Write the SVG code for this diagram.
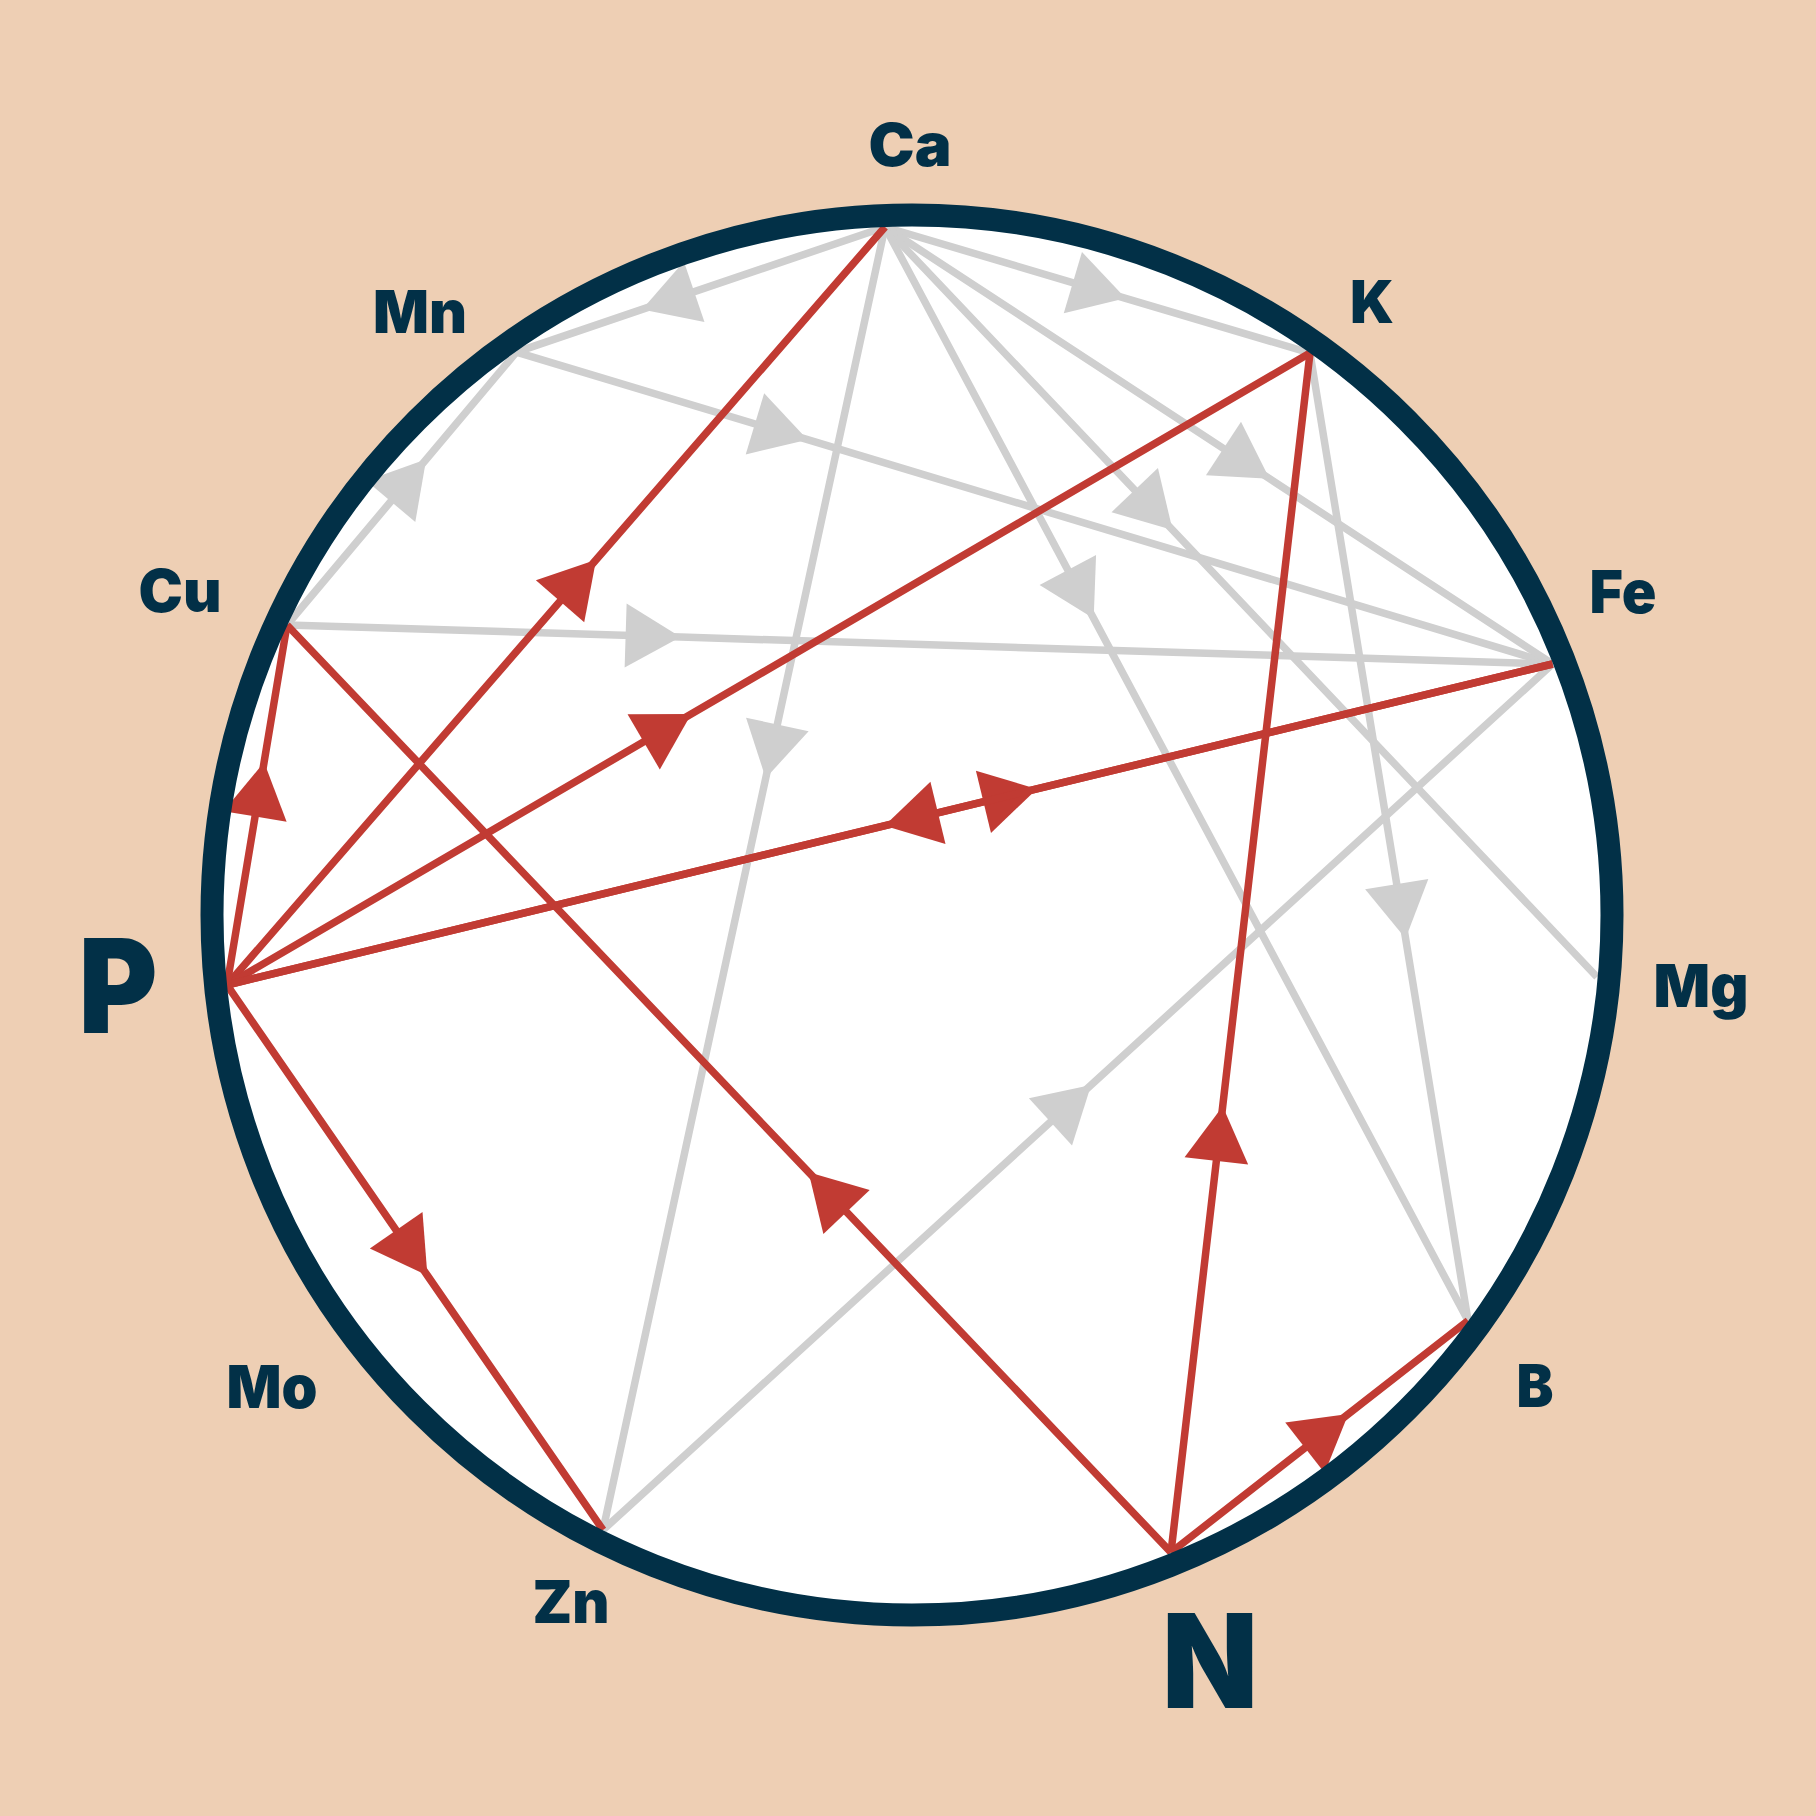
<svg xmlns="http://www.w3.org/2000/svg" width="1816" height="1816" viewBox="0 0 1816 1816">
<style>
.lab{font-family:Inter,"Liberation Sans",sans-serif;font-weight:900;fill:#023047;text-anchor:middle}
.s{font-size:59px}
.b{font-size:130px}
.g{fill:none;stroke:#cfcfcf;stroke-width:7.5;marker-mid:url(#ag)}
.r{fill:none;stroke:#c13b33;stroke-width:7.5;marker-mid:url(#ar)}
</style>
<defs>
<marker id="ag" markerUnits="userSpaceOnUse" markerWidth="55" markerHeight="64" refX="55" refY="32" orient="auto" overflow="visible"><path d="M0,0 L55,32 L0,64 Z" fill="#cfcfcf"/></marker>
<marker id="ar" markerUnits="userSpaceOnUse" markerWidth="55" markerHeight="64" refX="55" refY="32" orient="auto" overflow="visible"><path d="M0,0 L55,32 L0,64 Z" fill="#c13b33"/></marker>
</defs>
<rect width="1816" height="1816" fill="#eecfb4"/>
<circle cx="912" cy="915" r="700" fill="#ffffff"/>
<g id="connectors">
<path class="g" d="M885,227 L642.1,309.4 L516.4,352.1"/>
<path class="g" d="M885,227 L1125.6,298.3 L1310,353"/>
<path class="g" d="M287,625 L426.2,459.3 L516.4,352.1"/>
<path class="g" d="M516.4,352.1 L807.6,439.7 L1552.6,664"/>
<path class="g" d="M885,227 L1269.5,478.7 L1552.6,664"/>
<path class="g" d="M885,227 L1172.6,530 L1597,977"/>
<path class="g" d="M885,227 L1093.7,618.5 L1468,1320.6"/>
<path class="g" d="M885,227 L765.7,778.2 L603,1530"/>
<path class="g" d="M287,625 L680.6,637.1 L1552.6,664"/>
<path class="g" d="M1310,353 L1405.6,938.4 L1468,1320.6"/>
<path class="g" d="M603,1530 L1091.1,1084.9 L1552.6,664"/>
<path class="r" d="M227,985 L596.1,559.8 L885,227"/>
<path class="r" d="M227,985 L691.2,714.1 L1310,353"/>
<path class="r" d="M227,985 L1036.9,788.9 L1552.6,664"/>
<path class="r" d="M1552.6,664 L884.5,825.8 L227,985"/>
<path class="r" d="M227,985 L264.1,762.2 L287,625"/>
<path class="r" d="M1171,1552.4 L808.6,1172.2 L287,625"/>
<path class="r" d="M227,985 L427.4,1275.5 L603,1530"/>
<path class="r" d="M1171,1552.4 L1222.7,1106.2 L1310,353"/>
<path class="r" d="M1171,1552.4 L1348.3,1414 L1468,1320.6"/>
</g>
<circle cx="912" cy="915" r="700" fill="none" stroke="#023047" stroke-width="23"/>
<g id="node-Ca"><text class="lab s" x="910" y="166" textLength="83" lengthAdjust="spacingAndGlyphs">Ca</text></g>
<g id="node-K"><text class="lab s" x="1372" y="323" textLength="44" lengthAdjust="spacingAndGlyphs">K</text></g>
<g id="node-Fe"><text class="lab s" x="1623" y="613" textLength="67" lengthAdjust="spacingAndGlyphs">Fe</text></g>
<g id="node-Mg"><text class="lab s" x="1701" y="1007" textLength="95" lengthAdjust="spacingAndGlyphs">Mg</text></g>
<g id="node-B"><text class="lab s" x="1535" y="1407" textLength="37" lengthAdjust="spacingAndGlyphs">B</text></g>
<g id="node-N"><text class="lab b" x="1210" y="1708" textLength="96" lengthAdjust="spacingAndGlyphs">N</text></g>
<g id="node-Zn"><text class="lab s" x="571" y="1623" textLength="77" lengthAdjust="spacingAndGlyphs">Zn</text></g>
<g id="node-Mo"><text class="lab s" x="272" y="1408" textLength="91" lengthAdjust="spacingAndGlyphs">Mo</text></g>
<g id="node-P"><text class="lab b" x="118" y="1033" textLength="79" lengthAdjust="spacingAndGlyphs">P</text></g>
<g id="node-Cu"><text class="lab s" x="180" y="612" textLength="83" lengthAdjust="spacingAndGlyphs">Cu</text></g>
<g id="node-Mn"><text class="lab s" x="420" y="333" textLength="94" lengthAdjust="spacingAndGlyphs">Mn</text></g>
</svg>
